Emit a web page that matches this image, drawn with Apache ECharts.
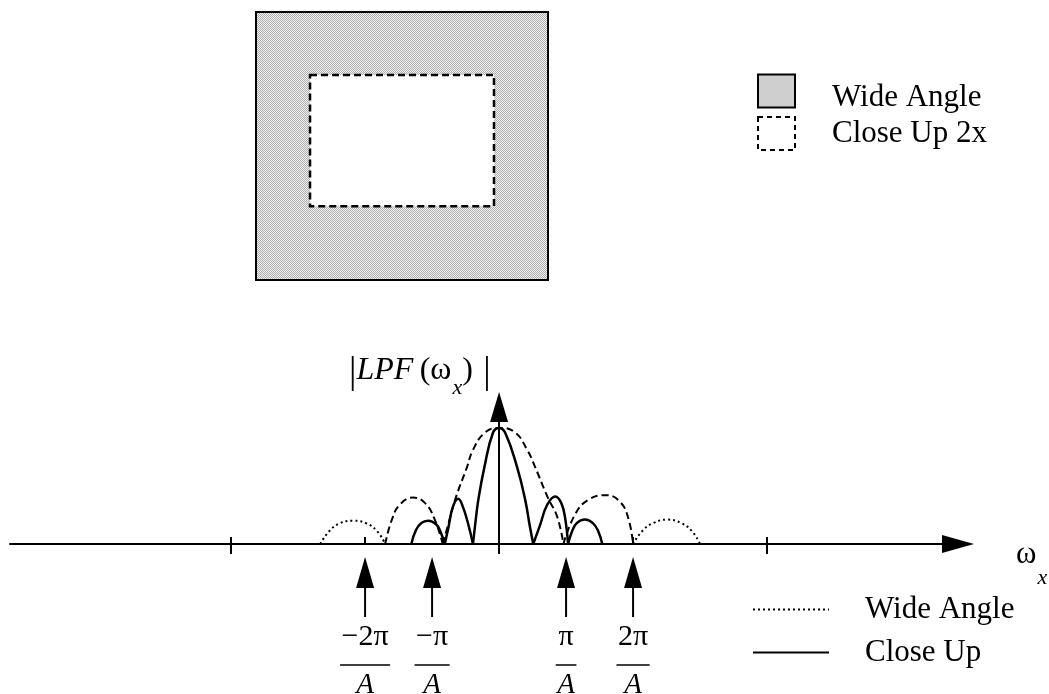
<!DOCTYPE html>
<html>
<head>
<meta charset="utf-8">
<script src="https://cdn.jsdelivr.net/npm/echarts@6/dist/echarts.min.js"></script>
<style>
  html, body { margin: 0; padding: 0; background: #fff; }
  #chart { width: 1049px; height: 694px; }
</style>
</head>
<body>
<div id="chart"></div>
<script>
// Frequency axis is measured in units of pi/A; magnitudes are normalised to the peak (1).

// Wide angle response: main lobe and first side lobes (dashed), outer lobes (dotted)
const wideMain   = [[-0.84,0],[-0.73,0.23],[-0.64,0.41],[-0.48,0.66],[-0.39,0.81],[-0.21,0.96],[0,1],[0.24,0.96],[0.42,0.81],[0.54,0.66],[0.72,0.41],[0.87,0.23],[0.96,0]];
const wideSideL  = [[-1.70,0],[-1.60,0.21],[-1.48,0.34],[-1.28,0.40],[-1.10,0.35],[-0.96,0.21],[-0.84,0]];
const wideSideR  = [[0.96,0],[1.13,0.25],[1.33,0.38],[1.60,0.42],[1.81,0.36],[1.93,0.22],[2.0,0]];
const wideOuterL = [[-2.67,0],[-2.52,0.12],[-2.37,0.18],[-2.18,0.20],[-1.99,0.18],[-1.82,0.11],[-1.70,0]];
const wideOuterR = [[2.0,0],[2.15,0.12],[2.30,0.18],[2.51,0.21],[2.72,0.18],[2.88,0.11],[3.0,0]];

// Close up response (solid)
const closeMain   = [[-0.39,0],[-0.36,0.15],[-0.31,0.38],[-0.22,0.66],[-0.09,0.96],[0,1],[0.09,0.96],[0.27,0.66],[0.39,0.38],[0.46,0.15],[0.51,0]];
const closeSide1L = [[-0.81,0],[-0.75,0.16],[-0.69,0.32],[-0.61,0.39],[-0.54,0.32],[-0.46,0.17],[-0.39,0]];
const closeSide1R = [[0.51,0],[0.61,0.16],[0.72,0.34],[0.84,0.41],[0.93,0.35],[0.99,0.21],[1.03,0]];
const closeSide2L = [[-1.31,0],[-1.24,0.12],[-1.16,0.18],[-1.06,0.20],[-0.94,0.17],[-0.87,0.10],[-0.81,0]];
const closeSide2R = [[1.03,0],[1.09,0.11],[1.16,0.18],[1.28,0.21],[1.40,0.18],[1.48,0.11],[1.54,0]];

// Marked frequencies and their fraction labels
const markerPos = [-2, -1, 1, 2];
const markerNum = ['\u22122\u03c0', '\u2212\u03c0', '\u03c0', '2\u03c0'];
const markerDen = 'A';
const axisTicksMajor = [-4, 0, 4];
const axisTicksMinor = [-4, -2, 2, 4];

// Field-of-view frames in normalised sensor coordinates: [x0, y0, x1, y1]
const wideFrame  = [-1, -1, 1, 1];
const closeFrame = [-0.63, -0.45, 0.63, 0.53];

const legendText = { wideFrame: 'Wide Angle', closeFrame: 'Close Up 2x', 'Wide Angle': 'Wide Angle', 'Close Up': 'Close Up' };

const SERIF = '"Liberation Serif", "Times New Roman", serif';

// stipple fill for the wide-angle frame
const stipple = document.createElement('canvas');
stipple.width = 2; stipple.height = 2;
(function () {
  const c = stipple.getContext('2d');
  c.fillStyle = '#efefef'; c.fillRect(0, 0, 2, 2);
  c.fillStyle = '#b0b0b0'; c.fillRect(0, 0, 1, 1); c.fillRect(1, 1, 1, 1);
})();
const stippleFill = { image: stipple, repeat: 'repeat' };

const measure = document.createElement('canvas').getContext('2d');
function textWidth(t, font) { measure.font = font; return measure.measureText(t).width; }

const NUM_FONT = '30px ' + SERIF;
const DEN_FONT = 'italic 29px ' + SERIF;

function lobe(name, data, type, width) {
  return {
    type: 'line', name: name, data: data, xAxisIndex: 0, yAxisIndex: 0,
    symbol: 'none', smooth: 0.45, silent: true, z: type === 'solid' ? 4 : 3,
    lineStyle: { color: '#000', width: width, type: type }
  };
}

function renderFrame(dashed) {
  return function (params, api) {
    const tl = api.coord([api.value(0), api.value(3)]);
    const br = api.coord([api.value(2), api.value(1)]);
    return {
      type: 'rect',
      shape: { x: tl[0], y: tl[1], width: br[0] - tl[0], height: br[1] - tl[1] },
      style: dashed
        ? { fill: '#fff', stroke: '#000', lineWidth: 2.5, lineDash: [7, 4] }
        : { fill: stippleFill, stroke: '#000', lineWidth: 2 }
    };
  };
}

function renderMarker(params, api) {
  const i = api.value(1);
  const p = api.coord([api.value(0), 0]);
  const x = p[0], y = p[1];
  const num = markerNum[i];
  const w = Math.max(textWidth(num, NUM_FONT), textWidth(markerDen, DEN_FONT)) + 3;
  return {
    type: 'group',
    children: [
      { type: 'polygon', shape: { points: [[x, y + 13], [x - 9, y + 44], [x + 9, y + 44]] }, style: { fill: '#000' } },
      { type: 'line', shape: { x1: x, y1: y + 44, x2: x, y2: y + 73 }, style: { stroke: '#000', lineWidth: 2 } },
      { type: 'text', style: { text: num, x: x, y: y + 93, font: NUM_FONT, fill: '#000', align: 'center', verticalAlign: 'middle' } },
      { type: 'line', shape: { x1: x - w / 2, y1: y + 121, x2: x + w / 2, y2: y + 121 }, style: { stroke: '#000', lineWidth: 1.5 } },
      { type: 'text', style: { text: markerDen, x: x, y: y + 141, font: DEN_FONT, fill: '#000', align: 'center', verticalAlign: 'middle' } }
    ]
  };
}

const axisLineStyle = { color: '#000', width: 2 };

function richTok(size, italic, lineHeight, padding) {
  const t = { fontFamily: SERIF, fontSize: size, fontWeight: 'normal', fontStyle: italic ? 'italic' : 'normal',
              lineHeight: lineHeight, verticalAlign: 'top', color: '#000' };
  if (padding) t.padding = padding;
  return t;
}

// one legend per frame so each caption can sit at its own height beside its swatch
function frameLegend(name, top, drop, itemStyle) {
  return {
    left: 757, top: top, orient: 'vertical', selectedMode: false, padding: 0,
    itemWidth: 37, itemHeight: 33,
    formatter: function (n) { return drop ? '{g| }\n{t|' + legendText[n] + '}' : '{t|' + legendText[n] + '}'; },
    textStyle: {
      fontFamily: SERIF, fontSize: 31, color: '#000', padding: [0, 0, 0, 32],
      rich: {
        g: { fontSize: 8, lineHeight: drop },
        t: { fontFamily: SERIF, fontSize: 31, color: '#000', lineHeight: 36 }
      }
    },
    data: [{ name: name, icon: 'rect', itemStyle: itemStyle }]
  };
}

const option = {
  animation: false,
  backgroundColor: '#fff',
  title: [
    {
      left: 344, top: 350,
      text: '{b||}{i|LPF}{r|\u2009(\u03c9}{s|x}{r|)}{b|\u2009\u200a|}',
      textStyle: {
        fontWeight: 'normal',
        rich: {
          b: richTok(37, false, 42),
          i: richTok(32, true, 42),
          r: richTok(32, false, 42),
          s: richTok(22, true, 16, [22, 0, 0, 1])
        }
      }
    },
    {
      left: 1011, top: 534,
      text: '{w|\u03c9}{s|x}',
      textStyle: {
        fontWeight: 'normal',
        rich: {
          w: richTok(31, false, 30),
          s: richTok(22, true, 14, [28, 0, 0, 1])
        }
      }
    }
  ],
  legend: [
    frameLegend('wideFrame', 69, 14, { color: stippleFill, borderColor: '#000', borderWidth: 2 }),
    frameLegend('closeFrame', 116, 0, { color: '#fff', borderColor: '#000', borderWidth: 2, borderType: [5, 4] }),
    {
      left: 747, top: 589, orient: 'vertical', selectedMode: false,
      itemWidth: 76, itemHeight: 30, itemGap: 12,
      formatter: function (n) { return legendText[n]; },
      lineStyle: { width: 2, type: 'inherit' },
      itemStyle: { color: 'transparent', borderWidth: 0, opacity: 0 },
      textStyle: { fontFamily: SERIF, fontSize: 31, color: '#000', padding: [0, 0, 0, 31] },
      data: ['Wide Angle', 'Close Up']
    }
  ],
  grid: [
    { left: 10, right: 91, top: 407, bottom: 150 },
    { left: 256, top: 12, width: 292, height: 268 }
  ],
  xAxis: [
    {
      type: 'value', gridIndex: 0, min: -7.3, max: 6.85,
      axisLine: { show: true, onZero: false, symbol: ['none', 'triangle'], symbolSize: [18, 32], lineStyle: axisLineStyle },
      axisTick: { show: true, inside: false, length: 10, customValues: axisTicksMajor, lineStyle: axisLineStyle },
      axisLabel: { show: false }, splitLine: { show: false }
    },
    {
      type: 'value', gridIndex: 0, min: -7.3, max: 6.85, position: 'bottom',
      axisLine: { show: false },
      axisTick: { show: true, inside: true, length: 7, customValues: axisTicksMinor, lineStyle: axisLineStyle },
      axisLabel: { show: false }, splitLine: { show: false }
    },
    { type: 'value', gridIndex: 1, min: -1, max: 1, show: false }
  ],
  yAxis: [
    {
      type: 'value', gridIndex: 0, min: 0, max: 1.18,
      axisLine: { show: true, onZero: true, symbol: ['none', 'triangle'], symbolSize: [18, 30], lineStyle: axisLineStyle },
      axisTick: { show: false }, axisLabel: { show: false }, splitLine: { show: false }
    },
    { type: 'value', gridIndex: 1, min: -1, max: 1, show: false }
  ],
  series: [
    lobe('Wide Angle', wideOuterL, [2, 3], 2),
    lobe('Wide Angle', wideOuterR, [2, 3], 2),
    lobe('Wide Angle', wideSideL, [7, 4], 2),
    lobe('Wide Angle', wideSideR, [7, 4], 2),
    lobe('Wide Angle', wideMain, [7, 4], 2),
    lobe('Close Up', closeSide2L, 'solid', 2.5),
    lobe('Close Up', closeSide2R, 'solid', 2.5),
    lobe('Close Up', closeSide1L, 'solid', 2.5),
    lobe('Close Up', closeSide1R, 'solid', 2.5),
    lobe('Close Up', closeMain, 'solid', 2.5),
    {
      type: 'custom', name: 'markers', xAxisIndex: 0, yAxisIndex: 0, silent: true, clip: false,
      data: markerPos.map(function (v, i) { return [v, i]; }),
      renderItem: renderMarker
    },
    {
      type: 'custom', name: 'wideFrame', xAxisIndex: 2, yAxisIndex: 1, silent: true,
      data: [wideFrame], renderItem: renderFrame(false), z: 1
    },
    {
      type: 'custom', name: 'closeFrame', xAxisIndex: 2, yAxisIndex: 1, silent: true,
      data: [closeFrame], renderItem: renderFrame(true), z: 2
    }
  ]
};

const chart = echarts.init(document.getElementById('chart'), null, { renderer: 'canvas' });
chart.setOption(option);
</script>
</body>
</html>
